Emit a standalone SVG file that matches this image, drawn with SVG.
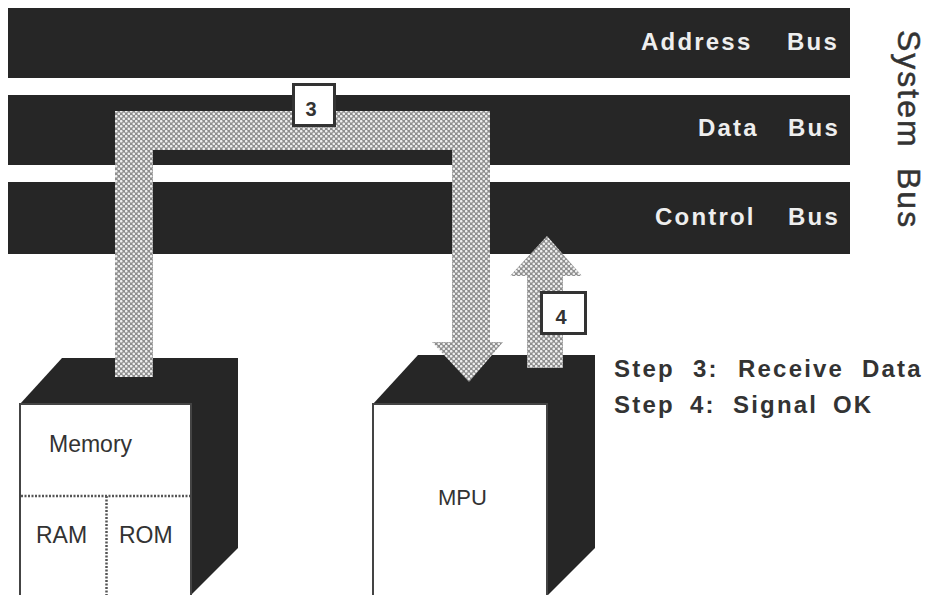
<svg xmlns="http://www.w3.org/2000/svg" width="947" height="595" viewBox="0 0 947 595">
<style>
.bar{fill:#262626}
.cube{fill:#262626}
.face{fill:#fff;stroke:#444;stroke-width:2}
.flow{fill:url(#dots)}
.box{fill:#fff;stroke:#333;stroke-width:3}
.t{font-family:"Liberation Sans",Arial,sans-serif;fill:#333}
.b{font-weight:bold;font-size:24px;letter-spacing:2.2px}
.w{font-weight:bold;font-size:24px;fill:#eee;letter-spacing:2.2px}
.n{font-size:23px}
.d{font-size:20px;font-weight:bold;text-anchor:middle}
.div{stroke:#555;stroke-width:2.5;stroke-dasharray:2 1.5;fill:none}
</style>
<defs>
<pattern id="dots" width="5" height="5" patternUnits="userSpaceOnUse">
<rect width="5" height="5" fill="#8e8e8e"/>
<circle cx="1.25" cy="1.25" r="1.3" fill="#f0f0f0"/>
<circle cx="3.75" cy="3.75" r="1.3" fill="#f0f0f0"/>
</pattern>
</defs>
<rect width="947" height="595" fill="#fff"/>
<g id="address-bus"><rect class="bar" x="8" y="8" width="842" height="70"/><text class="t w" x="641" y="50">Address</text><text class="t w" x="787" y="50">Bus</text></g>
<g id="data-bus"><rect class="bar" x="8" y="95" width="842" height="70"/><text class="t w" x="698" y="136">Data</text><text class="t w" x="788" y="136">Bus</text></g>
<g id="control-bus"><rect class="bar" x="8" y="182" width="842" height="72"/><text class="t w" x="655" y="225">Control</text><text class="t w" x="788" y="225">Bus</text></g>
<g id="memory">
<polygon class="cube" points="20,404 62,358 238,358 238,548 191,595 20,595"/>
<rect class="face" x="20" y="404" width="171" height="192"/>
<path class="div" d="M21 496H190M106.5 496V595"/>
<text class="t n" x="49" y="452">Memory</text>
<text class="t n" x="36" y="543">RAM</text>
<text class="t n" x="119" y="543">ROM</text>
</g>
<g id="mpu">
<polygon class="cube" points="373,404 418,355 595,355 595,548 548,595 373,595"/>
<rect class="face" x="373" y="404" width="174" height="192"/>
<text class="t n" x="438" y="505" style="font-size:22px">MPU</text>
</g>
<g id="connectors">
<path class="flow" d="M115 377V111H490V342H503L469 382L432 342H452V150H153V377Z"/>
<path class="flow" d="M527 368V276H510L547 236L582 276H563V368Z"/>
</g>
<g id="label-3"><rect class="box" x="293.500" y="84.500" width="41" height="41"/><text class="t d" x="311" y="116">3</text></g>
<g id="label-4"><rect class="box" x="541.500" y="292.500" width="44" height="41"/><text class="t d" x="561" y="324">4</text></g>
<g id="system-bus"><text class="t" transform="translate(898,0) rotate(90)" font-size="32" letter-spacing="2" stroke="#333" stroke-width=".5"><tspan x="30">System</tspan><tspan x="168">Bus</tspan></text></g>
<g id="steps">
<text class="t b" y="377"><tspan x="614">Step</tspan><tspan x="693">3:</tspan><tspan x="738">Receive</tspan><tspan x="862">Data</tspan></text>
<text class="t b" y="413"><tspan x="614">Step</tspan><tspan x="690">4:</tspan><tspan x="733">Signal</tspan><tspan x="833">OK</tspan></text>
</g>
</svg>
